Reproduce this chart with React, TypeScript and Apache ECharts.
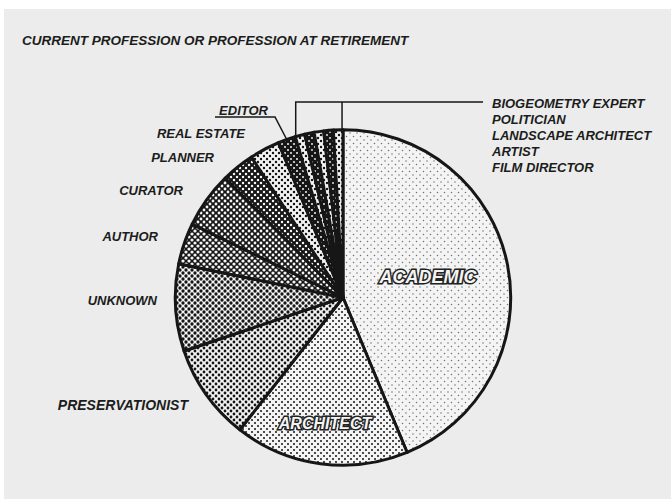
import React, { useEffect, useRef } from "react";
import * as echarts from "echarts";

const titleText = "CURRENT PROFESSION OR PROFESSION AT RETIREMENT";

const categories = [
  "ACADEMIC",
  "ARCHITECT",
  "PRESERVATIONIST",
  "UNKNOWN",
  "AUTHOR",
  "CURATOR",
  "PLANNER",
  "REAL ESTATE",
  "EDITOR",
  "BIOGEOMETRY EXPERT",
  "POLITICIAN",
  "LANDSCAPE ARCHITECT",
  "ARTIST",
  "FILM DIRECTOR",
];

const values = [43.8, 16.8, 9.3, 8.4, 4.0, 5.4, 3.2, 2.9, 1.7, 0.92, 0.92, 0.92, 0.92, 0.92];

const insideLabels = ["ACADEMIC", "ARCHITECT"];
const bracketGroup = ["BIOGEOMETRY EXPERT", "POLITICIAN", "LANDSCAPE ARCHITECT", "ARTIST", "FILM DIRECTOR"];

// ---- styling (halftone darkness per slice) ----
const darkness = [0.07, 0.18, 0.34, 0.48, 0.55, 0.64, 0.72, 0.26, 0.82, 0.26, 0.86, 0.26, 0.86, 0.26];

// ---- layout ----
const CX = 343;
const CY = 297.5;
const R = 167.7;
const FONT = "'Liberation Sans', Arial, Helvetica, sans-serif";
const INK = "#161616";
const labelAnchors: Record<string, [number, number, string]> = {
  ACADEMIC: [428, 277, "center"],
  ARCHITECT: [325, 423, "center"],
  PRESERVATIONIST: [188, 405, "right"],
  UNKNOWN: [157, 300, "right"],
  AUTHOR: [158, 236, "right"],
  CURATOR: [183, 190, "right"],
  PLANNER: [214, 157, "right"],
  "REAL ESTATE": [245, 133, "right"],
  EDITOR: [268, 110, "right"],
  "BIOGEOMETRY EXPERT": [492, 103, "left"],
  POLITICIAN: [492, 119, "left"],
  "LANDSCAPE ARCHITECT": [492, 135, "left"],
  ARTIST: [492, 151, "left"],
  "FILM DIRECTOR": [492, 167, "left"],
};
const BRACKET_Y = 102;
const BRACKET_END = 483;
const EDITOR_RULE = { x1: 275, x2: 215, y: 117 };

function makeTile(dark: number, gray: boolean, s: number) {
  const c = document.createElement("canvas");
  c.width = s;
  c.height = s;
  const g = c.getContext("2d")!;
  const area = (s * s) / 2;
  const invert = dark > 0.5;
  const bg = invert ? INK : "#f3f4f3";
  const dot = invert ? "#f3f4f3" : gray ? "#707070" : INK;
  const f = invert ? 1 - dark : dark;
  const r = Math.sqrt((f * area) / Math.PI);
  g.fillStyle = bg;
  g.fillRect(0, 0, s, s);
  g.fillStyle = dot;
  const pts = [
    [0, 0],
    [s, 0],
    [0, s],
    [s, s],
    [s / 2, s / 2],
  ];
  for (const [x, y] of pts) {
    g.beginPath();
    g.arc(x, y, r, 0, Math.PI * 2);
    g.fill();
  }
  return { image: c.toDataURL(), repeat: "repeat", imageWidth: s, imageHeight: s };
}

export default function App() {
  const ref = useRef<HTMLDivElement>(null);

  useEffect(() => {
    if (!ref.current) return;
    const chart = echarts.init(ref.current, null, { renderer: "svg" });

    const total = values.reduce((a, b) => a + b, 0);
    const cum: number[] = [0];
    values.forEach((v) => cum.push(cum[cum.length - 1] + v));
    const edgeAt = (v: number) => {
      const t = (v / total) * Math.PI * 2;
      return [CX + R * Math.sin(t), CY - R * Math.cos(t)];
    };
    const firstGroup = categories.indexOf(bracketGroup[0]);
    const lastGroup = categories.indexOf(bracketGroup[bracketGroup.length - 1]);

    const data = categories.map((name, i) => {
      const inside = insideLabels.includes(name);
      const item: any = {
        name,
        value: values[i],
        itemStyle: { color: makeTile(darkness[i], i === 0, i === 0 ? 7 : 6) },
      };
      if (inside) {
        item.label = {
          position: "inside",
          fontSize: name === "ACADEMIC" ? 18 : 16,
          color: "#f4f4f4",
          textBorderColor: "#222",
          textBorderWidth: 3,
        };
      }
      if (name === "PRESERVATIONIST") {
        item.label = { fontSize: 14 };
      }
      if (name === "EDITOR" || i === firstGroup || i === lastGroup) {
        item.labelLine = { show: true };
      }
      return item;
    });

    chart.setOption({
      animation: false,
      backgroundColor: "#ffffff",
      title: {
        text: titleText,
        left: 22,
        top: 33,
        padding: 0,
        textStyle: {
          fontFamily: FONT,
          fontStyle: "italic",
          fontWeight: "bold",
          fontSize: 13.5,
          color: "#1c1c1c",
        },
      },
      graphic: [
        {
          type: "rect",
          z: 0,
          silent: true,
          shape: { x: 4, y: 9, width: 667, height: 490 },
          style: { fill: "#ebeceb" },
        },
      ],
      series: [
        {
          type: "pie",
          z: 2,
          center: [CX, CY],
          radius: R,
          startAngle: 90,
          clockwise: true,
          avoidLabelOverlap: false,
          silent: true,
          itemStyle: { borderColor: INK, borderWidth: 3 },
          label: {
            show: true,
            position: "outside",
            formatter: "{b}",
            fontFamily: FONT,
            fontStyle: "italic",
            fontWeight: "bold",
            fontSize: 13,
            color: "#1c1c1c",
          },
          labelLine: { show: false, lineStyle: { color: INK, width: 1.5 } },
          labelLayout: (p: any) => {
            const i = p.dataIndex;
            const name = categories[i];
            const a = labelAnchors[name];
            const out: any = { x: a[0], y: a[1], align: a[2], verticalAlign: "middle" };
            if (name === "EDITOR") {
              const e = edgeAt((cum[i] + cum[i + 1]) / 2);
              out.labelLinePoints = [e, [EDITOR_RULE.x1, EDITOR_RULE.y], [EDITOR_RULE.x2, EDITOR_RULE.y]];
            } else if (i === firstGroup) {
              const e = edgeAt(cum[i] + 0.05 * values[i]);
              out.labelLinePoints = [e, [e[0], BRACKET_Y], [BRACKET_END, BRACKET_Y]];
            } else if (i === lastGroup) {
              const e = edgeAt(cum[i] + 0.9 * values[i]);
              out.labelLinePoints = [e, [e[0], BRACKET_Y], [e[0], BRACKET_Y]];
            }
            return out;
          },
          data,
        },
      ],
    });

    return () => chart.dispose();
  }, []);

  return (
    <div
      ref={ref}
      style={{ position: "absolute", left: 0, top: 0, width: 671, height: 500 }}
    />
  );
}
